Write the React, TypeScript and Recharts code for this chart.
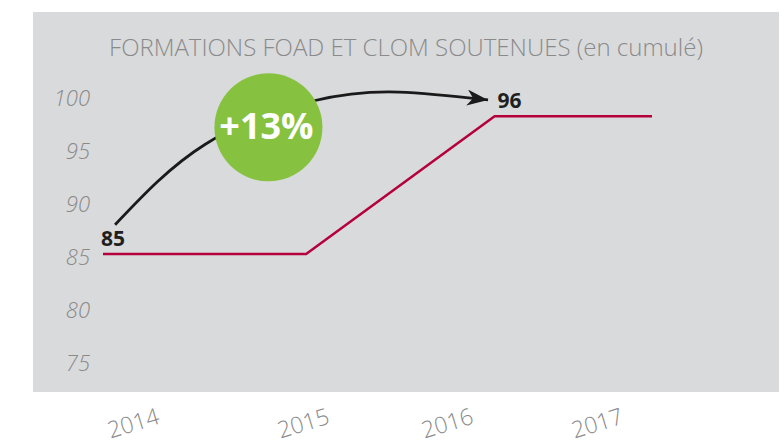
import { Line, LineChart, ReferenceDot, XAxis, YAxis, LabelList } from "recharts";

// cumulative count, placed where the original drew each vertex
const POINT_X = [2014, 2015.11, 2016.14, 2017];
const POINT_Y = [85.3, 85.3, 98.3, 98.3];
const POINT_LABELS = ["85", "", "96", ""];

// year labels (the original spaces them unevenly)
const TICK_X = [2014.164, 2015.093, 2015.88, 2016.699];
const TICK_LABELS = ["2014", "2015", "2016", "2017"];
const Y_TICKS = [75, 80, 85, 90, 95, 100];

// curved growth arrow
const ARROW_X = [2014.066, 2014.557, 2015.153, 2015.617, 2016.104];
const ARROW_Y = [88.07, 95.64, 99.76, 100.58, 99.84];

const GROWTH = "+13%";
const BUBBLE = { x: 2014.904, y: 97.25 };

const TITLE = "FORMATIONS FOAD ET CLOM SOUTENUES (en cumulé)";

const FONT = "'Open Sans', sans-serif";
const RED = "#b5003b";
const GREY = "#8a8a8a";
const PANEL = "#d9dadc";
const GREEN = "#86c240";

const series = POINT_X.map((x, i) => ({ x, v: POINT_Y[i], label: POINT_LABELS[i] }));
const arrow = ARROW_X.map((x, i) => ({ x, a: ARROW_Y[i] }));

function YearTick(props: any) {
  const { x, y, index } = props;
  const cy = y + 59;
  return (
    <text
      x={x}
      y={cy}
      textAnchor="middle"
      dominantBaseline="central"
      transform={`rotate(-17 ${x} ${cy})`}
      fill={GREY}
      fontSize={23}
      fontWeight={300}
      fontFamily={FONT}
    >
      {TICK_LABELS[index]}
    </text>
  );
}

function PointLabel(props: any) {
  const { x, y, index } = props;
  const t = POINT_LABELS[index];
  if (!t) return null;
  return (
    <text x={x + (index === 0 ? -2 : 3)} y={y - 8} fill="#1f1f1f" fontSize={21} fontWeight={700} fontFamily={FONT}>
      {t}
    </text>
  );
}

function Bubble(props: any) {
  const { cx, cy } = props;
  return (
    <g>
      <circle cx={cx} cy={cy} r={54} fill={GREEN} />
      <text
        x={cx - 2}
        y={cy - 2}
        textAnchor="middle"
        dominantBaseline="central"
        fill="#fff"
        fontSize={36}
        fontWeight={700}
        fontFamily={FONT}
      >
        {GROWTH}
      </text>
    </g>
  );
}

export default function App() {
  return (
    <div style={{ position: "absolute", left: 0, top: 0, width: 784, height: 442, background: "#fff" }}>
      <div style={{ position: "absolute", left: 33, top: 12, width: 746, height: 380, background: PANEL }} />
      <div
        style={{
          position: "absolute",
          left: 33,
          top: 35,
          width: 746,
          textAlign: "center",
          fontFamily: FONT,
          fontWeight: 300,
          fontSize: 24,
          lineHeight: "24px",
          color: GREY,
          whiteSpace: "nowrap",
        }}
      >
        {TITLE}
      </div>
      <div style={{ position: "absolute", left: 0, top: 0 }}>
        <LineChart width={784} height={442} margin={{ top: 77, right: 132, left: 33, bottom: 38.7 }}>
          <defs>
            <marker id="head" markerUnits="userSpaceOnUse" markerWidth={24} markerHeight={18} refX={21} refY={8} orient="auto">
              <path d="M0,0 L21,8 L0,16 L6,8 z" fill="#1a1a1a" />
            </marker>
          </defs>
          <XAxis
            type="number"
            dataKey="x"
            domain={[2014, 2017]}
            ticks={TICK_X}
            axisLine={false}
            tickLine={false}
            tickSize={0}
            tickMargin={0}
            height={40}
            tick={<YearTick />}
            interval={0}
          />
          <YAxis
            type="number"
            domain={[75, 102]}
            ticks={Y_TICKS}
            axisLine={false}
            tickLine={false}
            tickSize={0}
            tickMargin={13}
            width={70}
            tick={{ fill: GREY, fontSize: 22, fontStyle: "italic", fontWeight: 300, fontFamily: FONT }}
          />
          <Line
            data={arrow}
            dataKey="a"
            type="natural"
            stroke="#1a1a1a"
            strokeWidth={2.8}
            dot={false}
            activeDot={false}
            markerEnd="url(#head)"
            isAnimationActive={false}
          />
          <Line
            data={series}
            dataKey="v"
            type="linear"
            stroke={RED}
            strokeWidth={2.5}
            dot={false}
            activeDot={false}
            isAnimationActive={false}
          >
            <LabelList dataKey="label" content={<PointLabel />} />
          </Line>
          <ReferenceDot x={BUBBLE.x} y={BUBBLE.y} r={54} shape={<Bubble />} ifOverflow="visible" />
        </LineChart>
      </div>
    </div>
  );
}
